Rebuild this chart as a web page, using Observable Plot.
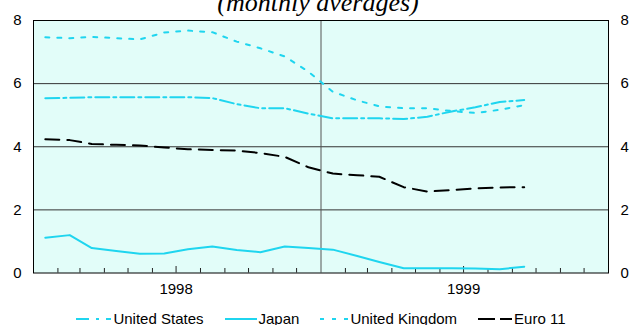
<!DOCTYPE html>
<html>
<head>
<meta charset="utf-8">
<script src="https://cdn.jsdelivr.net/npm/d3@7"></script>
<script src="https://cdn.jsdelivr.net/npm/@observablehq/plot@0.6"></script>
<style>
  html, body { margin: 0; padding: 0; background: #ffffff; }
  #wrap { position: relative; width: 630px; height: 325px; overflow: hidden; font-family: "Liberation Sans", Arial, sans-serif; }
  #title { position: absolute; left: 0; width: 636px; top: -10px; text-align: center; font-family: "Liberation Serif", "Times New Roman", serif; font-style: italic; font-size: 26px; line-height: 26px; color: #000; }
  #chart { position: absolute; left: 0; top: 0; }
  #legend { position: absolute; left: 0; width: 642px; top: 309px; height: 20px; display: flex; justify-content: center; align-items: center; gap: 21px; font-size: 15px; line-height: 20px; color: #000; }
  .item { display: flex; align-items: center; }
  .item svg { display: block; margin-right: 2px; }
</style>
</head>
<body>
<div id="wrap">
  <div id="title">(monthly averages)</div>
  <div id="chart"></div>
  <div id="legend"></div>
</div>
<script>
// ---- data (monthly averages, per cent) ----
const months = ["1998-01","1998-02","1998-03","1998-04","1998-05","1998-06","1998-07","1998-08","1998-09","1998-10","1998-11","1998-12",
                "1999-01","1999-02","1999-03","1999-04","1999-05","1999-06","1999-07","1999-08","1999-09"];
const unitedStates = [5.54,5.55,5.57,5.57,5.57,5.57,5.57,5.54,5.35,5.22,5.22,5.05,4.90,4.90,4.90,4.88,4.95,5.12,5.25,5.42,5.48];
const japan        = [1.12,1.20,0.79,0.70,0.61,0.62,0.75,0.84,0.73,0.66,0.84,0.79,0.74,0.54,0.35,0.15,0.15,0.15,0.14,0.12,0.20];
const unitedKingdom= [7.47,7.44,7.48,7.44,7.40,7.62,7.68,7.63,7.33,7.12,6.86,6.38,5.74,5.47,5.28,5.22,5.22,5.13,5.07,5.17,5.32];
const euro11       = [4.24,4.21,4.09,4.06,4.04,3.98,3.92,3.90,3.88,3.80,3.68,3.35,3.15,3.10,3.05,2.72,2.58,2.63,2.68,2.71,2.72];
const seriesNames  = ["United States","Japan","United Kingdom","Euro 11"];
const yTicks = [0,2,4,6,8];
const gridValues = [2,4,6];
const yearLabels = ["1998","1999"];
const xStart = "1998-01-01", xEnd = "2000-01-01", divider = "1999-01-01";

// ---- styling ----
const cyan = "#1fd5ef";
const bg = "#e2fdf9";
const styles = {
  "United States":  {stroke: cyan, dash: "14,4,3,4"},
  "Japan":          {stroke: cyan, dash: null},
  "United Kingdom": {stroke: cyan, dash: "4,8"},
  "Euro 11":        {stroke: "#000", dash: "14,8"}
};
const legendDash = {
  "United States":  {w: 35, dash: "13,7,3,7"},
  "Japan":          {w: 32, dash: null},
  "United Kingdom": {w: 28, dash: "4,8"},
  "Euro 11":        {w: 34, dash: "17,5"}
};

const midMonth = s => { const [y, m] = s.split("-").map(Number); return new Date(Date.UTC(y, m - 1, 16)); };
const values = {"United States": unitedStates, "Japan": japan, "United Kingdom": unitedKingdom, "Euro 11": euro11};
const table = seriesNames.flatMap(name => months.map((m, i) => ({series: name, date: midMonth(m), value: values[name][i]})));

const monthTicks = d3.utcMonth.range(new Date(xStart), new Date(xEnd)).filter(d => d.getUTCMonth() !== 0 && d.getUTCMonth() !== 6);
const midYears = yearLabels.map(y => new Date(Date.UTC(+y, 6, 1)));

const chart = Plot.plot({
  width: 630,
  height: 300,
  marginLeft: 33,
  marginRight: 22,
  marginTop: 20,
  marginBottom: 27.5,
  style: {fontFamily: '"Liberation Sans", Arial, sans-serif', fontSize: "15px", color: "#000", background: "transparent", overflow: "visible"},
  x: {type: "utc", domain: [new Date(xStart), new Date(xEnd)]},
  y: {domain: [0, 8]},
  marks: [
    Plot.frame({fill: bg, stroke: null}),
    Plot.ruleY(gridValues, {stroke: "#333", strokeWidth: 1}),
    Plot.ruleX([new Date(divider)], {stroke: "#555", strokeWidth: 1}),
    Plot.axisX(monthTicks, {tickSize: -4.5, tickFormat: () => "", label: null, stroke: "#222"}),
    Plot.axisX(midYears, {tickSize: -6.5, tickFormat: () => "", label: null, stroke: "#222"}),
    Plot.axisX(midYears, {tickSize: 0, tickPadding: 10, tickFormat: d => String(d.getUTCFullYear()), label: null}),
    Plot.axisY(yTicks, {anchor: "left", tickSize: 0, tickPadding: 12, label: null}),
    Plot.axisY(yTicks, {anchor: "right", tickSize: 0, tickPadding: 12, label: null}),
    ...seriesNames.map(name => Plot.line(table.filter(d => d.series === name), {
      x: "date", y: "value",
      stroke: styles[name].stroke,
      strokeWidth: 2,
      strokeDasharray: styles[name].dash,
      strokeLinejoin: "round"
    })),
    Plot.frame({stroke: "#000", strokeWidth: 1})
  ]
});
document.getElementById("chart").appendChild(chart);

// ---- legend ----
const legend = document.getElementById("legend");
for (const name of seriesNames) {
  const item = document.createElement("div");
  item.className = "item";
  const w = legendDash[name].w;
  const svgNS = "http://www.w3.org/2000/svg";
  const s = document.createElementNS(svgNS, "svg");
  s.setAttribute("width", w); s.setAttribute("height", 10);
  const l = document.createElementNS(svgNS, "line");
  l.setAttribute("x1", 0); l.setAttribute("x2", w); l.setAttribute("y1", 5); l.setAttribute("y2", 5);
  l.setAttribute("stroke", styles[name].stroke); l.setAttribute("stroke-width", 2);
  if (legendDash[name].dash) l.setAttribute("stroke-dasharray", legendDash[name].dash);
  s.appendChild(l);
  const t = document.createElement("span");
  t.textContent = name;
  item.appendChild(s); item.appendChild(t);
  legend.appendChild(item);
}
</script>
</body>
</html>
